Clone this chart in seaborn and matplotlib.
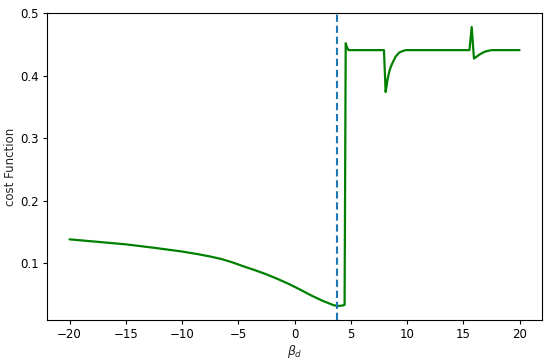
import numpy as np
import pandas as pd
import matplotlib
matplotlib.use("Agg")
import matplotlib.pyplot as plt
import seaborn as sns

# beta_d qiymətləri və cost function
beta_d = [-20, -17.5, -15, -12.5, -10, -8.5, -7.5, -6.5, -5.5, -4.5, -3.5,
          -2.5, -1.5, -0.5, 0.5, 1.5, 2.5, 3, 3.4, 3.8, 4.2, 4.45, 4.55,
          4.65, 4.8, 6, 7.95, 8.1, 8.25, 8.4, 8.55, 8.75, 9.0, 9.3, 9.6,
          9.9, 12, 15.55, 15.75, 15.95, 16.1, 16.3, 16.5, 16.75, 17.0,
          17.5, 20]
cost = [0.138, 0.134, 0.130, 0.1245, 0.1185, 0.114, 0.1105, 0.1065, 0.101,
        0.0945, 0.0885, 0.082, 0.0745, 0.0665, 0.0575, 0.048, 0.0395,
        0.036, 0.033, 0.0312, 0.0318, 0.033, 0.452, 0.446, 0.441, 0.441,
        0.441, 0.374, 0.392, 0.405, 0.414, 0.422, 0.431, 0.437, 0.4395,
        0.441, 0.441, 0.441, 0.478, 0.4275, 0.4295, 0.432, 0.4345, 0.437,
        0.439, 0.441, 0.441]
threshold = 3.8

data = pd.DataFrame({"beta": beta_d, "cost": cost})

sns.set_style("ticks")
plt.rcParams["font.size"] = 8.5
plt.rcParams["axes.edgecolor"] = "black"
plt.rcParams["xtick.color"] = "black"
plt.rcParams["ytick.color"] = "black"
plt.rcParams["xtick.major.pad"] = 3
plt.rcParams["ytick.major.pad"] = 3
plt.rcParams["xtick.major.size"] = 3
plt.rcParams["ytick.major.size"] = 3

fig, ax = plt.subplots(figsize=(5.5, 3.63), dpi=100)
fig.subplots_adjust(left=0.0855, right=0.9855, top=0.964, bottom=0.1185)

sns.lineplot(data=data, x="beta", y="cost", color="green", linewidth=1.6, ax=ax)
ax.axvline(threshold, linestyle="--", color="tab:blue", linewidth=1.5,
           dashes=(3.5, 1.8))

ax.set_xticks(np.arange(-20, 21, 5))
ax.set_yticks([0.1, 0.2, 0.3, 0.4, 0.5])
ax.set_xlabel(r"$\beta_d$", fontsize=9, labelpad=1)
ax.set_ylabel("cost Function", labelpad=2)

fig.savefig("out.png", dpi=100)
